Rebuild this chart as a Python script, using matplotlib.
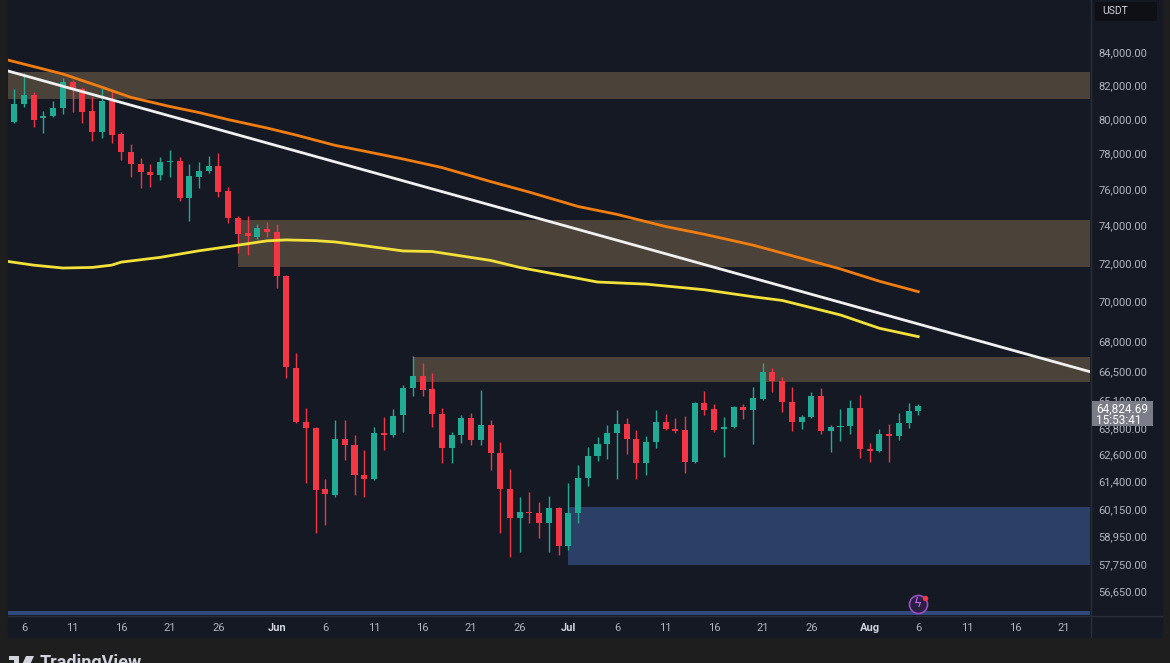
import matplotlib
matplotlib.use("Agg")
import matplotlib.pyplot as plt
import matplotlib.dates as mdates
from matplotlib.patches import Rectangle, Polygon
import pandas as pd

# daily candles, May 5 .. Aug 6
dates = pd.date_range("2024-05-05", "2024-08-06", freq="D")
opens = [79810, 80870, 81400, 80040, 80160, 80630, 82180, 81760, 80450, 79230,
         81040, 79110, 78080, 77400, 76950, 76780, 77510, 77570, 75500, 76670,
         77000, 77280, 75880, 74400, 73590, 73380, 73800, 73640, 71310, 66670,
         64090, 63810, 61030, 60760, 63300, 63020, 61660, 61480, 63580, 63490,
         64400, 65710, 66290, 65660, 64470, 62890, 63490, 64280, 63250, 63950,
         62660, 61030, 59750, 60010, 59970, 59530, 60190, 58540, 59970, 61520,
         62520, 63070, 63580, 64000, 63300, 62200, 63160, 64090, 63770, 63720,
         62250, 64990, 64700, 63770, 63860, 64800, 64660, 65180, 66480, 66040,
         65040, 64090, 64330, 65320, 63670, 63860, 63910, 64750, 62840, 62750,
         63530, 63440, 64050, 64610]
highs = [81760, 82720, 81580, 80450, 81040, 82420, 82300, 81880, 81280, 81940,
         81640, 79230, 78540, 77740, 77400, 77790, 78190, 77790, 77400, 77510,
         77850, 78020, 76110, 74510, 74510, 74080, 74180, 74080, 71360, 67410,
         64750, 63860, 61480, 64190, 64190, 63490, 62790, 63860, 64330, 64700,
         65850, 67260, 66920, 66430, 64750, 63630, 64420, 64520, 65610, 64190,
         63160, 61930, 60670, 60900, 60450, 60720, 60230, 61300, 62110, 62930,
         63390, 63950, 64660, 64280, 63720, 63440, 64660, 64470, 64280, 64380,
         65040, 65560, 64940, 64330, 64850, 64940, 65760, 66920, 66670, 66240,
         65760, 64420, 65510, 65710, 63950, 64700, 65130, 65370, 63120, 63770,
         64000, 64520, 64990, 64940]
lows = [79750, 80690, 79520, 79170, 80100, 80280, 80400, 79750, 78710, 78880,
        78600, 77620, 76670, 76050, 76110, 76500, 76670, 75330, 74240, 76050,
        76890, 75550, 74130, 72520, 72420, 73270, 73380, 70690, 66190, 64050,
        61300, 59100, 59440, 60670, 62340, 60760, 60670, 61430, 62790, 63390,
        63630, 65320, 65320, 63860, 62200, 62200, 63120, 63020, 63020, 61880,
        59100, 58070, 58280, 59530, 58880, 58280, 58160, 58370, 59530, 61160,
        62290, 62380, 61500, 62610, 61480, 61660, 62890, 63720, 63580, 61750,
        62200, 64420, 63630, 62470, 63800, 64230, 63070, 65130, 65510, 64560,
        63670, 63770, 64280, 63530, 62700, 63210, 63530, 62430, 62250, 62700,
        62250, 63250, 63810, 64420]
closes = [80870, 81400, 79930, 80160, 80630, 82180, 81700, 80400, 79230, 81040,
          79060, 78080, 77400, 76950, 76780, 77510, 77570, 75500, 76720, 77000,
          77280, 75830, 74400, 73540, 73430, 73860, 73640, 71310, 66720, 64090,
          63810, 60980, 60810, 63300, 63020, 61660, 61480, 63580, 63490, 64380,
          65710, 66290, 65610, 64470, 62890, 63490, 64280, 63250, 63950, 62660,
          61030, 59750, 60010, 59970, 59530, 60190, 58540, 59970, 61520, 62520,
          63070, 63580, 64000, 63300, 62200, 63160, 64090, 63770, 63670, 62250,
          64990, 64660, 63720, 63860, 64800, 64660, 65230, 66480, 66040, 65040,
          64090, 64330, 65320, 63670, 63860, 63910, 64750, 62840, 62750, 63530,
          63440, 64050, 64610, 64824.69]

# moving averages
ma_slow_dates = ["2024-05-04", "2024-05-10", "2024-05-14", "2024-05-17", "2024-05-21",
                 "2024-05-24", "2024-05-27", "2024-05-31", "2024-06-03", "2024-06-07",
                 "2024-06-10", "2024-06-14", "2024-06-18", "2024-06-23", "2024-06-27",
                 "2024-07-02", "2024-07-06", "2024-07-11", "2024-07-15", "2024-07-20",
                 "2024-07-24", "2024-07-29", "2024-08-02", "2024-08-06"]
ma_slow = [83560, 82660, 81870, 81260, 80720, 80365, 79950, 79460, 79050, 78460,
           78130, 77680, 77195, 76410, 75820, 75030, 74600, 73940, 73520, 72940,
           72380, 71680, 71040, 70500]
ma_fast_dates = ["2024-05-04", "2024-05-07", "2024-05-10", "2024-05-13", "2024-05-15",
                 "2024-05-16", "2024-05-20", "2024-05-24", "2024-05-27", "2024-05-31",
                 "2024-06-02", "2024-06-05", "2024-06-07", "2024-06-10", "2024-06-14",
                 "2024-06-17", "2024-06-23", "2024-06-26", "2024-07-02", "2024-07-04",
                 "2024-07-09", "2024-07-15", "2024-07-20", "2024-07-23", "2024-07-29",
                 "2024-08-02", "2024-08-06"]
ma_fast = [72100, 71880, 71730, 71760, 71880, 72040, 72290, 72640, 72860, 73170,
           73220, 73180, 73110, 72910, 72630, 72600, 72130, 71760, 71190, 71000,
           70890, 70600, 70240, 70050, 69310, 68640, 68220]
trend_dates = ["2024-05-04", "2024-08-24"]
trend_vals = [82900, 66450]

# supply / demand zones
zone_start = ["2024-04-01", "2024-05-28", "2024-06-15"]
zone_lo = [81160, 71800, 65985]
zone_hi = [82800, 74290, 67228]
demand_start = "2024-07-01"
demand_lo, demand_hi = 57730, 60220
base_lo, base_hi = 55000, 55820

y_ticks = [84000, 82000, 80000, 78000, 76000, 74000, 72000, 70000, 68000, 66500,
           65100, 63800, 62600, 61400, 60150, 58950, 57750, 56650]
x_ticks = ["2024-05-06", "2024-05-11", "2024-05-16", "2024-05-21", "2024-05-26",
           "2024-06-01", "2024-06-06", "2024-06-11", "2024-06-16", "2024-06-21",
           "2024-06-26", "2024-07-01", "2024-07-06", "2024-07-11", "2024-07-16",
           "2024-07-21", "2024-07-26", "2024-08-01", "2024-08-06", "2024-08-11",
           "2024-08-16", "2024-08-21"]
x_labels = ["6", "11", "16", "21", "26", "Jun", "6", "11", "16", "21", "26", "Jul",
            "6", "11", "16", "21", "26", "Aug", "6", "11", "16", "21"]

BG = "#151924"
OUTER = "#1e1e1e"
GRID = "#2a2e39"
UP = "#22ab94"
DOWN = "#f23645"
TXT = "#b2b5be"

W, H = 1170, 663
fig = plt.figure(figsize=(W / 100, H / 100), dpi=100, facecolor=OUTER)
plt.rcParams['font.family'] = ['Roboto', 'DejaVu Sans']


def fx(x):
    return x / W


def fy(y):
    return 1 - y / H


# panel backgrounds
fig.add_artist(Rectangle((fx(8), fy(637)), fx(1162 - 8), 637 / H,
                         transform=fig.transFigure, color=BG, zorder=0))
fig.add_artist(plt.Line2D([fx(1090.5), fx(1090.5)], [fy(0), fy(637)],
                          transform=fig.transFigure, color=GRID, lw=1))
fig.add_artist(plt.Line2D([fx(8), fx(1162)], [fy(615.5), fy(615.5)],
                          transform=fig.transFigure, color=GRID, lw=1))

ax = fig.add_axes([fx(8), fy(615), fx(1090 - 8), 615 / H])
ax.set_facecolor(BG)
ax.set_yscale("log")
ax.set_ylim(55660, 87255)
x0 = mdates.date2num(pd.Timestamp("2024-05-06"))
ax.set_xlim(x0 - 1.65, x0 + 109.67)
xmax = x0 + 120

# zones
for s, lo, hi in zip(zone_start, zone_lo, zone_hi):
    xs = mdates.date2num(pd.Timestamp(s))
    ax.add_patch(Rectangle((xs, lo), xmax - xs, hi - lo, color="#4b4239", lw=0, zorder=1))
xs = mdates.date2num(pd.Timestamp(demand_start))
ax.add_patch(Rectangle((xs, demand_lo), xmax - xs, demand_hi - demand_lo,
                       color="#2c3f66", lw=0, zorder=1))
xs = mdates.date2num(pd.Timestamp("2024-04-01"))
ax.add_patch(Rectangle((xs, base_lo), xmax - xs, base_hi - base_lo,
                       color="#30487a", lw=0, zorder=1))

# candles
xd = mdates.date2num(dates)
cols = [UP if c >= o else DOWN for o, c in zip(opens, closes)]
ax.vlines(xd, lows, highs, colors=cols, linewidth=1, zorder=3)
bottoms = [min(o, c) for o, c in zip(opens, closes)]
heights = [max(abs(c - o), o * 0.0009) for o, c in zip(opens, closes)]
ax.bar(xd, heights, width=0.62, bottom=bottoms, color=cols, linewidth=0, zorder=4)

# lines
ax.plot(pd.to_datetime(ma_slow_dates), ma_slow, color="#ef7d12", lw=2, zorder=5)
ax.plot(pd.to_datetime(ma_fast_dates), ma_fast, color="#f2e13a", lw=2, zorder=5)
ax.plot(pd.to_datetime(trend_dates), trend_vals, color="#f0f0f0", lw=2, zorder=5)

# axes styling
for sp in ax.spines.values():
    sp.set_visible(False)
ax.yaxis.tick_right()
ax.yaxis.set_minor_locator(matplotlib.ticker.NullLocator())
ax.set_yticks(y_ticks)
ax.set_yticklabels([f"{v:,.2f}" for v in y_ticks])
ax.tick_params(axis="y", length=0, pad=6, labelsize=8, labelcolor=TXT)
ax.set_xticks(mdates.date2num(pd.to_datetime(x_ticks)))
ax.set_xticklabels(x_labels)
ax.tick_params(axis="x", length=0, pad=6, labelsize=8, labelcolor=TXT)
for lab in ax.get_xticklabels():
    if lab.get_text() in ("Jun", "Jul", "Aug"):
        lab.set_color("#d1d4dc")
        lab.set_fontweight("bold")

# last price label: box covering the tick label underneath
fig.add_artist(Rectangle((fx(1092), fy(426)), fx(61), 25 / H, transform=fig.transFigure,
                         color="#7b7e88", lw=0, zorder=20))
fig.text(fx(1096), fy(402.5), f"{closes[-1]:,.2f}\n15:53:41", ha="left", va="top",
         fontsize=8.5, color="white", linespacing=0.9, zorder=21)

# currency tag
fig.add_artist(Rectangle((fx(1095), fy(21)), fx(62), 19 / H, transform=fig.transFigure,
                         color="#0e1016", lw=0))
fig.text(fx(1102), fy(11.5), "USDT", fontsize=7.5, color="#d1d4dc", ha="left", va="center")

# alert icon
ax.plot([0.841], [0.0179], transform=ax.transAxes, marker="o", ms=13,
        mfc="#2a1f40", mec="#9b4dca", mew=1.2, clip_on=False, zorder=8)
ax.text(0.841, 0.0179, "ϟ", transform=ax.transAxes, ha="center", va="center",
        fontsize=9, color="#d36cff", family=["DejaVu Sans"], zorder=9)
ax.plot([0.8475], [0.0276], transform=ax.transAxes, marker="o", ms=4,
        mfc=DOWN, mec="none", clip_on=False, zorder=9)

# TradingView logo (cut at bottom)
fig.add_artist(Rectangle((fx(9), fy(660)), fx(10), 4 / H, transform=fig.transFigure,
                         color="#d1d4dc", lw=0))
fig.add_artist(Rectangle((fx(14), fy(667)), fx(5), 11 / H, transform=fig.transFigure,
                         color="#d1d4dc", lw=0))
fig.add_artist(Polygon([(fx(26), fy(656)), (fx(34), fy(656)), (fx(29), fy(667)),
                        (fx(21), fy(667))], closed=True, transform=fig.transFigure,
                       color="#d1d4dc", lw=0))
fig.text(fx(40), fy(668), "TradingView", fontsize=13, color="#d1d4dc",
         fontweight="bold", ha="left", va="baseline")

fig.savefig("out.png", dpi=100, facecolor=OUTER)
